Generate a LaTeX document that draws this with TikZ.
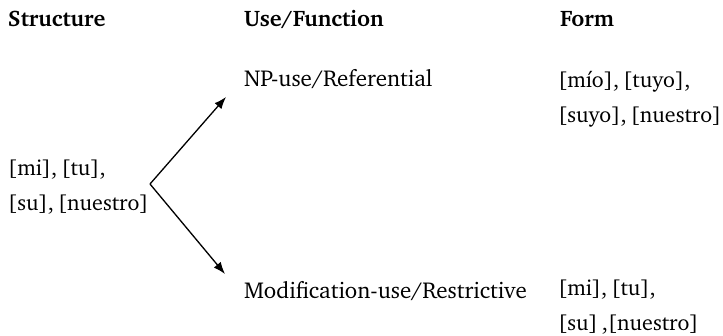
\documentclass[tikz,border=0pt]{standalone}
\usepackage[T1]{fontenc}
\usepackage{charter}
\usetikzlibrary{arrows.meta}
\newcommand\mylistfont{\fontsize{22}{35}\selectfont\spaceskip=4pt\relax}
\begin{document}
\begin{tikzpicture}[x=1pt,y=1pt,
  txt/.style={inner sep=0pt,outer sep=0pt,anchor=base west,align=left,font=\fontsize{23}{35}\selectfont},
  list/.style={txt,font=\mylistfont},
  head/.style={txt,font=\fontsize{22.5}{35}\selectfont\bfseries},
  conn/.style={line width=1.3pt,-{Latex[length=12pt,width=9pt]}}]
\useasboundingbox (0,0) rectangle (723,-335);
\node[head] (structure) at (8,-26) {Structure};
\node[head] (usefn) at (244,-26) {Use/Function};
\node[head] (formh) at (560,-26) {Form};
\node[txt] (np) at (244,-86) {NP-use/Referential};
\node[list] (forma) at (558,-122) {[m\'{\i}o], [tuyo],\\ {[suyo], [nuestro]}};
\node[list] (left) at (8,-210) {[mi], [tu],\\ {[su], [nuestro]}};
\node[txt] (mod) at (244,-298) {Modification-use/Restrictive};
\node[list] (formb) at (558,-330) {[mi], [tu],\\ {[su] ,[nuestro]}};
\coordinate (v) at (150,-184);
\coordinate (tipup) at (226,-97);
\coordinate (tipdown) at (225,-274);
\draw[conn] (v) -- (tipup);
\draw[conn] (v) -- (tipdown);
\end{tikzpicture}
\end{document}
